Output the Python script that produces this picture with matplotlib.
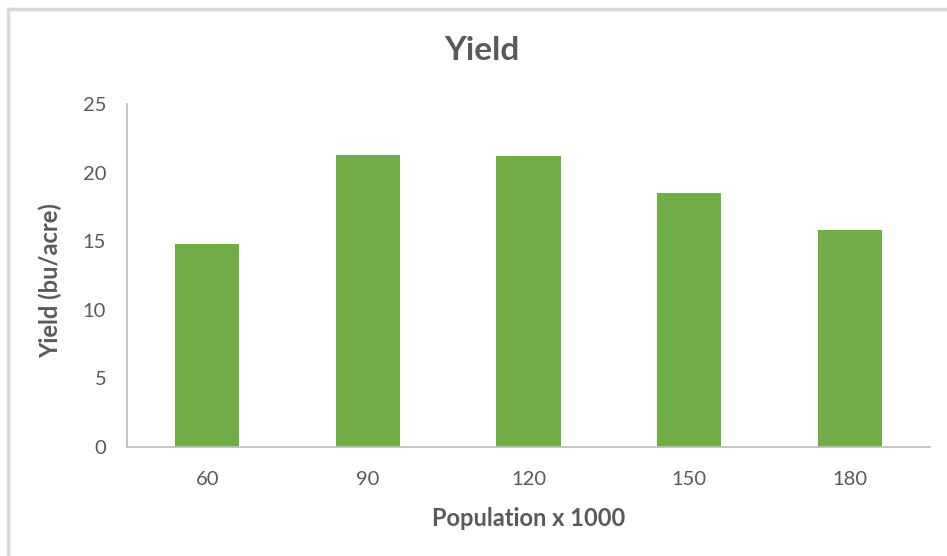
import matplotlib
matplotlib.use("Agg")
import matplotlib.pyplot as plt
from matplotlib.lines import Line2D

# Plant population (thousands per acre) and measured yield
populations = ["60", "90", "120", "150", "180"]
yield_bu_acre = [14.8, 21.3, 21.2, 18.5, 15.8]
y_ticks = [0, 5, 10, 15, 20, 25]

plt.rcParams["font.family"] = ["Lato", "DejaVu Sans"]
TEXT = "#595959"
GREEN = "#70AD47"
AXIS = "#BFBFBF"

W, H = 947, 556
fig = plt.figure(figsize=(W / 100, H / 100), dpi=100)
fig.patch.set_facecolor("white")

# Light frame around the chart area (top and left edges)
fig.add_artist(Line2D([8 / W, 1.0], [1 - 9 / H, 1 - 9 / H],
                      transform=fig.transFigure, color="#D9D9D9", lw=2.5))
fig.add_artist(Line2D([8 / W, 8 / W], [0, 1 - 9 / H],
                      transform=fig.transFigure, color="#D9D9D9", lw=2.5))

ax = fig.add_axes([127 / W, 1 - 447 / H, (930 - 127) / W, (447 - 104) / H])
x = range(len(populations))
ax.bar(x, yield_bu_acre, width=0.4, color=GREEN, zorder=2)

ax.set_xlim(-0.5, len(populations) - 0.5)
ax.set_ylim(0, 25)
ax.set_yticks(y_ticks)
ax.set_xticks(list(x))
ax.set_xticklabels(populations)

for s in ["top", "right"]:
    ax.spines[s].set_visible(False)
for s in ["left", "bottom"]:
    ax.spines[s].set_color(AXIS)
    ax.spines[s].set_linewidth(1.3)

ax.tick_params(axis="both", length=0, labelsize=14.5, colors=TEXT)
ax.tick_params(axis="y", pad=15)
ax.tick_params(axis="x", pad=17)

fig.text(482 / W, 1 - 51 / H, "Yield", fontsize=24, fontweight="bold",
         color=TEXT, ha="center", va="center")
ax.set_xlabel("Population x 1000", fontsize=17, fontweight="bold", color=TEXT,
              va="center")
ax.xaxis.set_label_coords(0.5, (447 - 518) / 343)
ax.set_ylabel("Yield (bu/acre)", fontsize=17, fontweight="bold", color=TEXT,
              va="center", ha="center")
ax.yaxis.set_label_coords((50 - 127) / 803, 0.5 - (281 - 275.5) / 343)

fig.savefig("out.png", dpi=100, facecolor="white")
